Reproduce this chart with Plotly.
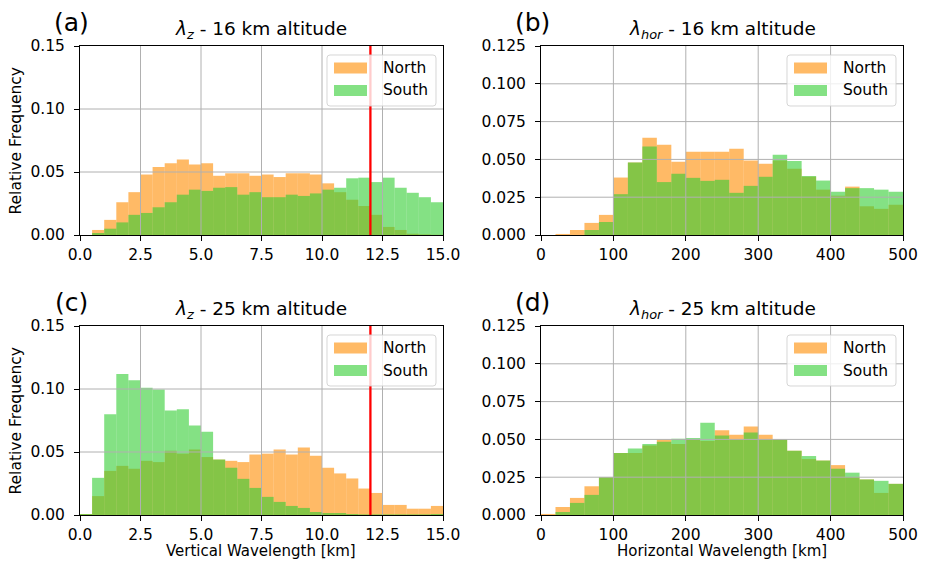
import plotly.graph_objects as go
import numpy as np

# page has an 8px body margin, so the figure is drawn 8px in from the window edge
W, H = 927, 568
OFF = 8
FW, FH = W - 2 * OFF, H - 2 * OFF

# bin edges
vz_edges = np.arange(0, 15.01, 0.5)
hor_edges = np.arange(0, 500.1, 20)

# (a) vertical wavelength, 16 km
a_north = [0, 0.004, 0.012, 0.026, 0.034, 0.048, 0.054, 0.057, 0.060, 0.056,
           0.057, 0.047, 0.049, 0.049, 0.047, 0.048, 0.046, 0.049, 0.049, 0.048,
           0.041, 0.034, 0.028, 0.023, 0.016, 0.0064, 0.004, 0.001, 0.0005, 0.0002]
a_south = [0, 0.0016, 0.005, 0.010, 0.016, 0.0175, 0.022, 0.026, 0.032, 0.036,
           0.035, 0.0375, 0.038, 0.032, 0.034, 0.030, 0.030, 0.032, 0.031, 0.033,
           0.036, 0.0375, 0.045, 0.0455, 0.042, 0.0455, 0.0375, 0.0335, 0.030, 0.026]

# (b) horizontal wavelength, 16 km
b_north = [0, 0.0007, 0.0033, 0.008, 0.0133, 0.038, 0.048, 0.0644, 0.0597, 0.0484,
           0.055, 0.055, 0.055, 0.057, 0.0493, 0.0471, 0.0493, 0.0438, 0.0386, 0.030,
           0.026, 0.032, 0.019, 0.0173, 0.020]
b_south = [0, 0, 0, 0.0033, 0.0086, 0.027, 0.048, 0.0586, 0.035, 0.0405,
           0.0378, 0.0358, 0.0365, 0.0279, 0.0325, 0.0385, 0.053, 0.0489, 0.039, 0.036,
           0.0286, 0.031, 0.031, 0.030, 0.0286]

# (c) vertical wavelength, 25 km
c_north = [0.0008, 0.015, 0.035, 0.039, 0.0367, 0.043, 0.042, 0.051, 0.0487, 0.052,
           0.046, 0.044, 0.043, 0.042, 0.048, 0.0487, 0.052, 0.048, 0.0535, 0.047,
           0.0375, 0.033, 0.029, 0.021, 0.0175, 0.008, 0.008, 0.005, 0.005, 0.0072]
c_south = [0.0008, 0.0295, 0.080, 0.112, 0.107, 0.101, 0.0997, 0.083, 0.084, 0.071,
           0.066, 0.044, 0.0375, 0.0287, 0.0215, 0.0144, 0.0104, 0.0072, 0.0056, 0.0024,
           0.0016, 0.0016, 0.0008, 0.0005, 0.0005, 0.0005, 0.0005, 0.0005, 0.0005, 0.0008]

# (d) horizontal wavelength, 25 km
d_north = [0.0007, 0.0053, 0.0113, 0.019, 0.025, 0.041, 0.041, 0.046, 0.050, 0.047,
           0.050, 0.049, 0.056, 0.053, 0.0585, 0.053, 0.050, 0.0425, 0.037, 0.036,
           0.033, 0.025, 0.0235, 0.0146, 0.0206]
d_south = [0, 0.002, 0.008, 0.0133, 0.025, 0.041, 0.044, 0.047, 0.0485, 0.0505,
           0.051, 0.061, 0.0525, 0.050, 0.0545, 0.050, 0.050, 0.0425, 0.039, 0.036,
           0.0306, 0.028, 0.0235, 0.0226, 0.0206]

NORTH = 'rgba(255,140,0,0.6)'
SOUTH = 'rgba(50,205,50,0.6)'
FONT = 'DejaVu Sans'

panels = [
    dict(label='(a)', title='<i>λ</i><sub><i>z</i></sub> - 16 km altitude', box=(80, 46, 443, 235),
         edges=vz_edges, north=a_north, south=a_south, xr=[0, 15], yr=[0, 0.15],
         xt=[0, 2.5, 5, 7.5, 10, 12.5, 15], xf='.1f', yt=[0, 0.05, 0.10, 0.15], yf='.2f', red=12),
    dict(label='(b)', title='<i>λ</i><sub><i>hor</i></sub> - 16 km altitude', box=(541, 46, 903, 235),
         edges=hor_edges, north=b_north, south=b_south, xr=[0, 500], yr=[0, 0.125],
         xt=[0, 100, 200, 300, 400, 500], xf='d', yt=[0, 0.025, 0.05, 0.075, 0.1, 0.125], yf='.3f', red=None),
    dict(label='(c)', title='<i>λ</i><sub><i>z</i></sub> - 25 km altitude', box=(80, 326, 443, 515),
         edges=vz_edges, north=c_north, south=c_south, xr=[0, 15], yr=[0, 0.15],
         xt=[0, 2.5, 5, 7.5, 10, 12.5, 15], xf='.1f', yt=[0, 0.05, 0.10, 0.15], yf='.2f', red=12),
    dict(label='(d)', title='<i>λ</i><sub><i>hor</i></sub> - 25 km altitude', box=(541, 326, 903, 515),
         edges=hor_edges, north=d_north, south=d_south, xr=[0, 500], yr=[0, 0.125],
         xt=[0, 100, 200, 300, 400, 500], xf='d', yt=[0, 0.025, 0.05, 0.075, 0.1, 0.125], yf='.3f', red=None),
]


def fx(px):
    return (px - OFF) / FW


def fy(py):
    return 1 - (py - OFF) / FH


def rounded_box(x0, y0, x1, y1, r):
    # path in paper coords from pixel box (y downwards)
    pts = [
        ('M', x0 + r, y0), ('L', x1 - r, y0), ('Q', x1, y0, x1, y0 + r),
        ('L', x1, y1 - r), ('Q', x1, y1, x1 - r, y1), ('L', x0 + r, y1),
        ('Q', x0, y1, x0, y1 - r), ('L', x0, y0 + r), ('Q', x0, y0, x0 + r, y0),
    ]
    s = ''
    for p in pts:
        cmd, vals = p[0], p[1:]
        coords = []
        for k in range(0, len(vals), 2):
            coords.append(f'{fx(vals[k]):.5f},{fy(vals[k + 1]):.5f}')
        s += cmd + ' '.join(coords) + ' '
    return s + 'Z'


fig = go.Figure()
shapes = []
annotations = []

for i, p in enumerate(panels):
    n = '' if i == 0 else str(i + 1)
    xa, ya = 'x' + n, 'y' + n
    l, t, r, b = p['box']
    edges = p['edges']
    centers = (edges[:-1] + edges[1:]) / 2
    bw = edges[1] - edges[0]

    fig.add_trace(go.Bar(x=centers, y=p['north'], width=bw, name='North',
                         marker=dict(color=NORTH, line=dict(width=0)),
                         xaxis=xa, yaxis=ya, showlegend=False))
    fig.add_trace(go.Bar(x=centers, y=p['south'], width=bw, name='South',
                         marker=dict(color=SOUTH, line=dict(width=0)),
                         xaxis=xa, yaxis=ya, showlegend=False))

    axis_style = dict(showline=True, mirror=True, linecolor='black', linewidth=1,
                      ticks='outside', ticklen=5, tickwidth=1, tickcolor='black',
                      showgrid=False, zeroline=False, fixedrange=True, automargin=False,
                      tickfont=dict(family=FONT, size=15.5, color='black'))
    fig.layout['xaxis' + n] = dict(domain=[fx(l), fx(r)], anchor=ya, range=p['xr'],
                                   tickvals=p['xt'], tickformat=p['xf'],
                                   ticklabelstandoff=0, **axis_style)
    fig.layout['yaxis' + n] = dict(domain=[fy(b), fy(t)], anchor=xa, range=p['yr'],
                                   tickvals=p['yt'], tickformat=p['yf'],
                                   ticklabelstandoff=6, **axis_style)

    # grid drawn on top of the bars, as in matplotlib
    for v in p['xt'][1:-1]:
        shapes.append(dict(type='line', xref=xa, yref=ya + ' domain', x0=v, x1=v, y0=0, y1=1,
                           line=dict(color='#b0b0b0', width=1), layer='above'))
    for v in p['yt'][1:-1]:
        shapes.append(dict(type='line', xref=xa + ' domain', yref=ya, x0=0, x1=1, y0=v, y1=v,
                           line=dict(color='#b0b0b0', width=1), layer='above'))
    if p['red'] is not None:
        shapes.append(dict(type='line', xref=xa, yref=ya + ' domain', x0=p['red'], x1=p['red'],
                           y0=0, y1=1, line=dict(color='red', width=2.3), layer='above'))

    # legend box
    shapes.append(dict(type='path', xref='paper', yref='paper',
                       path=rounded_box(r - 116, t + 9, r - 7, t + 60, 3),
                       fillcolor='rgba(255,255,255,0.8)',
                       line=dict(color='rgba(204,204,204,0.8)', width=1), layer='above'))
    for k, (name, col) in enumerate([('North', NORTH), ('South', SOUTH)]):
        yc = t + 22 + 22.5 * k
        shapes.append(dict(type='rect', xref='paper', yref='paper',
                           x0=fx(r - 109), x1=fx(r - 76), y0=fy(yc - 5.5), y1=fy(yc + 5.5),
                           fillcolor=col, line=dict(width=0), layer='above'))
        annotations.append(dict(text=name, xref='paper', yref='paper', x=fx(r - 62), y=fy(yc),
                                xanchor='left', yanchor='middle', showarrow=False,
                                font=dict(family=FONT, size=15.5, color='black')))

    # panel title and label
    annotations.append(dict(text=p['title'], xref='paper', yref='paper', x=fx((l + r) / 2),
                            y=fy(t - 16), xanchor='center', yanchor='middle', showarrow=False,
                            font=dict(family=FONT, size=18.5, color='black')))
    annotations.append(dict(text=p['label'], xref='paper', yref='paper', x=fx(l - 9),
                            y=fy(t - 24), xanchor='center', yanchor='middle', showarrow=False,
                            font=dict(family=FONT, size=25, color='black')))

# axis titles
for yc in [140.5, 420.5]:
    annotations.append(dict(text='Relative Frequency', xref='paper', yref='paper', x=fx(15),
                            y=fy(yc), textangle=-90, xanchor='center', yanchor='middle',
                            showarrow=False, font=dict(family=FONT, size=15.5, color='black')))
annotations.append(dict(text='Vertical Wavelength [km]', xref='paper', yref='paper', x=fx(261.5),
                        y=fy(551), xanchor='center', yanchor='middle', showarrow=False,
                        font=dict(family=FONT, size=15, color='black')))
annotations.append(dict(text='Horizontal Wavelength [km]', xref='paper', yref='paper', x=fx(722),
                        y=fy(551), xanchor='center', yanchor='middle', showarrow=False,
                        font=dict(family=FONT, size=15, color='black')))

fig.update_layout(
    width=FW, height=FH, autosize=False,
    margin=dict(l=0, r=0, t=0, b=0, pad=0, autoexpand=False),
    plot_bgcolor='white', paper_bgcolor='white',
    barmode='overlay', showlegend=False,
    font=dict(family=FONT, size=15.5, color='black'),
    shapes=shapes, annotations=annotations,
)

fig.write_html('out.html')
